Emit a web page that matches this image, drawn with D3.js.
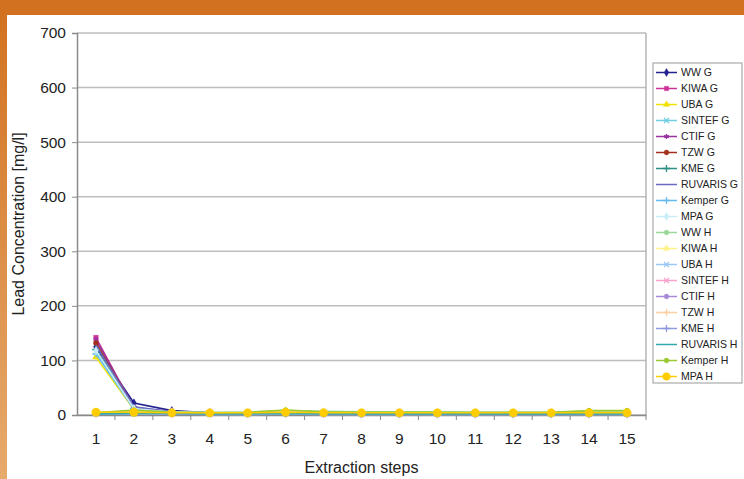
<!DOCTYPE html>
<html>
<head>
    <meta charset="utf-8">
    <title>Lead concentration</title>
    <style>
        body { margin: 0; background: #fff; }
        text { font-family: "Liberation Sans", Arial, sans-serif; fill: #222; }
    </style>
</head>
<body>
<div id="plot"></div>
<script src="https://cdn.jsdelivr.net/npm/d3@7"></script>
<script>

    // x categories
    let steps = ['1','2','3','4','5','6','7','8','9','10','11','12','13','14','15'];
    let yTicks = [0, 100, 200, 300, 400, 500, 600, 700];

    // series values (mg/l)
    let wwG      = [125, 22, 8, 4, 3, 3, 3, 2, 2, 2, 2, 2, 2, 2, 2];
    let kiwaG    = [142, 12, 5, 3, 3, 4, 3, 2, 2, 2, 2, 2, 2, 2, 2];
    let ubaG     = [106, 10, 5, 3, 3, 4, 3, 3, 3, 3, 3, 3, 3, 3, 3];
    let sintefG  = [115, 12, 5, 3, 3, 3, 3, 2, 2, 2, 2, 2, 2, 2, 2];
    let ctifG    = [138, 14, 6, 3, 3, 4, 3, 2, 2, 2, 2, 2, 2, 2, 2];
    let tzwG     = [132, 13, 5, 3, 3, 3, 3, 2, 2, 2, 2, 2, 2, 2, 2];
    let kmeG     = [120, 12, 5, 3, 3, 3, 3, 2, 2, 2, 2, 2, 2, 2, 2];
    let ruvarisG = [128, 15, 6, 4, 3, 3, 3, 2, 2, 2, 2, 2, 2, 2, 2];
    let kemperG  = [112, 11, 5, 3, 3, 3, 3, 2, 2, 2, 2, 2, 2, 2, 2];
    let mpaG     = [118, 12, 5, 3, 3, 3, 3, 2, 2, 2, 2, 2, 2, 2, 2];
    let wwH      = [3, 8, 6, 5, 5, 8, 7, 6, 6, 6, 5, 5, 5, 7, 7];
    let kiwaH    = [4, 6, 5, 4, 4, 6, 5, 4, 4, 4, 4, 4, 4, 5, 5];
    let ubaH     = [2, 2, 2, 1, 1, 2, 1, 1, 1, 1, 1, 1, 1, 1, 1];
    let sintefH  = [3, 4, 3, 3, 3, 4, 3, 3, 3, 3, 3, 3, 3, 3, 3];
    let ctifH    = [3, 4, 3, 3, 3, 4, 3, 3, 3, 3, 3, 3, 3, 3, 3];
    let tzwH     = [4, 5, 4, 3, 3, 5, 4, 3, 3, 3, 3, 3, 3, 4, 4];
    let kmeH     = [2, 3, 2, 2, 2, 3, 2, 2, 2, 2, 2, 2, 2, 2, 2];
    let ruvarisH = [2, 3, 3, 2, 2, 3, 2, 2, 2, 2, 2, 2, 2, 2, 2];
    let kemperH  = [4, 9, 5, 4, 5, 9, 6, 5, 5, 5, 5, 5, 5, 8, 8];
    let mpaH     = [5, 5, 4, 4, 4, 5, 4, 4, 4, 4, 4, 4, 4, 4, 4];

    let seriesNames = ['WW G','KIWA G','UBA G','SINTEF G','CTIF G','TZW G','KME G','RUVARIS G','Kemper G','MPA G',
                       'WW H','KIWA H','UBA H','SINTEF H','CTIF H','TZW H','KME H','RUVARIS H','Kemper H','MPA H'];
    let seriesValues = [wwG, kiwaG, ubaG, sintefG, ctifG, tzwG, kmeG, ruvarisG, kemperG, mpaG,
                        wwH, kiwaH, ubaH, sintefH, ctifH, tzwH, kmeH, ruvarisH, kemperH, mpaH];
    let seriesColors = ['#23238f','#cc3399','#f2e200','#6fcfe0','#9933a0','#a3301c','#2a8f84','#6a6ac0','#66bbee','#c8ecf8',
                        '#9ad89a','#fff28a','#99c8f5','#f7a3cc','#a88ad8','#fbcfa0','#8f99dd','#33a8aa','#99c833','#ffcc00'];
    let seriesSymbols = ['diamond','square','triangle','times','asterisk','circle','plus','none','plus','diamond',
                         'circle','triangle','times','times','circle','plus','plus','none','circle','circle'];

    let svgWidth = 744;
    let svgHeight = 479;
    let margin = {top: 33, right: 98, bottom: 64, left: 77};
    let width = svgWidth - margin.left - margin.right;
    let height = svgHeight - margin.top - margin.bottom;

    function translate(x, y) {
        return 'translate(' + x + ',' + y + ')';
    }

    let symbolTypes = {
        diamond: d3.symbolDiamond, square: d3.symbolSquare, triangle: d3.symbolTriangle,
        times: d3.symbolTimes, asterisk: d3.symbolAsterisk, circle: d3.symbolCircle, plus: d3.symbolPlus
    };
    let strokeSymbols = ['times', 'asterisk', 'plus'];

    let root = d3.select('#plot')
        .append('svg')
        .attr('width', svgWidth)
        .attr('height', svgHeight);

    // orange frame
    let grad = root.append('defs').append('linearGradient')
        .attr('id', 'frame').attr('x1', 0).attr('y1', 0).attr('x2', 0).attr('y2', 1);
    grad.append('stop').attr('offset', '0%').attr('stop-color', '#d2711f');
    grad.append('stop').attr('offset', '100%').attr('stop-color', '#e6aa6c');
    root.append('rect').attr('x', 0).attr('y', 0).attr('width', 7).attr('height', svgHeight).attr('fill', 'url(#frame)');
    root.append('rect').attr('x', 0).attr('y', 0).attr('width', svgWidth).attr('height', 15).attr('fill', '#d2711f');

    let svg = root.append('g').attr('transform', translate(margin.left, margin.top));

    let x = d3.scaleBand().domain(steps).range([0, width]);
    let y = d3.scaleLinear().domain([0, 700]).range([height, 0]);

    // grid
    svg.append('g')
        .selectAll('line')
        .data(yTicks)
        .enter()
            .append('line')
            .attr('x1', 0).attr('x2', width)
            .attr('y1', d => y(d)).attr('y2', d => y(d))
            .style('stroke', '#bdbdbd').style('stroke-width', 1.5);

    svg.append('line')
        .attr('x1', width).attr('x2', width).attr('y1', 0).attr('y2', height)
        .style('stroke', '#b5b5b5').style('stroke-width', 1.5);

    // axes
    let yAxis = svg.append('g')
        .call(d3.axisLeft(y).tickValues(yTicks).tickSize(5).tickPadding(6));
    yAxis.selectAll('text').style('font-size', '15.5px');

    let xAxis = svg.append('g')
        .attr('transform', translate(0, height))
        .call(d3.axisBottom(x).tickSize(0).tickPadding(18));
    xAxis.selectAll('text').style('font-size', '15.5px');
    xAxis.append('g')
        .selectAll('line')
        .data(steps)
        .enter()
            .append('line')
            .attr('x1', d => x(d) + x.bandwidth()).attr('x2', d => x(d) + x.bandwidth())
            .attr('y1', 0).attr('y2', 5)
            .style('stroke', '#888');

    [yAxis, xAxis].forEach(function(a) {
        a.select('.domain').style('stroke', '#8a8a8a').style('stroke-width', 1.5);
        a.selectAll('.tick line').style('stroke', '#8a8a8a');
    });

    // series
    let line = d3.line()
        .x((d, i) => x(steps[i]) + x.bandwidth() / 2)
        .y(d => y(d));

    function marker(sel, sym, color, size) {
        if (sym === 'none') return;
        let stroke = strokeSymbols.indexOf(sym) >= 0;
        sel.append('path')
            .attr('d', d3.symbol().type(symbolTypes[sym]).size(size))
            .style('fill', stroke ? 'none' : color)
            .style('stroke', color)
            .style('stroke-width', stroke ? 1.3 : 0.5);
    }

    seriesValues.forEach(function(vals, k) {
        let g = svg.append('g');
        g.append('path')
            .datum(vals)
            .attr('d', line)
            .style('fill', 'none')
            .style('stroke', seriesColors[k])
            .style('stroke-width', 1.6);
        let size = seriesNames[k] === 'MPA H' ? 55 : 20;
        g.selectAll('g')
            .data(vals)
            .enter()
                .append('g')
                .attr('transform', (d, i) => translate(x(steps[i]) + x.bandwidth() / 2, y(d)))
                .each(function() { marker(d3.select(this), seriesSymbols[k], seriesColors[k], size); });
    });

    // axis titles
    root.append('text')
        .attr('transform', translate(24, margin.top + height / 2) + ' rotate(-90)')
        .attr('text-anchor', 'middle')
        .style('font-size', '16px')
        .text('Lead Concentration [mg/l]');

    root.append('text')
        .attr('x', margin.left + width / 2)
        .attr('y', 473)
        .attr('text-anchor', 'middle')
        .style('font-size', '16px')
        .text('Extraction steps');

    // legend
    let legend = root.append('g').attr('transform', translate(653, 63));
    legend.append('rect')
        .attr('width', 89).attr('height', 320)
        .style('fill', '#fff').style('stroke', '#aaa').style('stroke-width', 1.2);

    let items = legend.selectAll('g.item')
        .data(seriesNames)
        .enter()
            .append('g')
            .attr('class', 'item')
            .attr('transform', (d, i) => translate(0, 9.5 + i * 16));
    items.append('line')
        .attr('x1', 3).attr('x2', 24)
        .style('stroke', (d, i) => seriesColors[i])
        .style('stroke-width', 1.5);
    items.each(function(d, i) {
        let m = d3.select(this).append('g').attr('transform', translate(13.5, 0));
        marker(m, seriesSymbols[i], seriesColors[i], d === 'MPA H' ? 45 : 18);
    });
    items.append('text')
        .attr('x', 28)
        .attr('dy', '0.35em')
        .style('font-size', '10.5px')
        .text(d => d);

</script>
</body>
</html>
